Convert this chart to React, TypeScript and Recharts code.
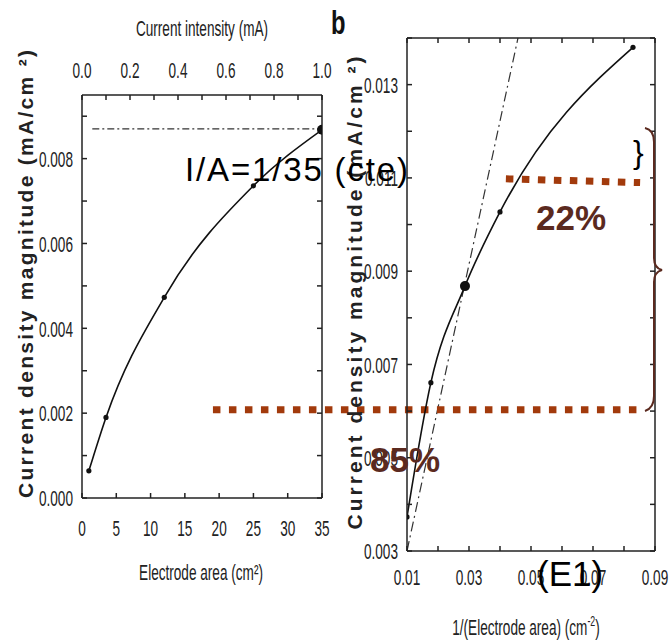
import React from "react";
import { LineChart, Line, XAxis, YAxis, ReferenceLine } from "recharts";

// panel a: current density vs electrode area
const areaCm2 = [1, 3.5, 12, 25, 35];
const densityA = [0.00064, 0.0019, 0.00473, 0.00736, 0.00868];
const areaTicks = [0, 5, 10, 15, 20, 25, 30, 35];
const intensityTicks = [0, 0.1, 0.2, 0.3, 0.4, 0.5, 0.6, 0.7, 0.8, 0.9, 1.0];
const densityTicksA = [0, 0.001, 0.002, 0.003, 0.004, 0.005, 0.006, 0.007, 0.008, 0.009];
const constRatioLevel = 0.0087; // I/A = 1/35
const constRatioStart = 1.5;

// panel b: current density vs 1/area
const invArea = [0.01, 0.0177, 0.0287, 0.04, 0.0829];
const densityB = [0.00373, 0.00661, 0.00868, 0.01027, 0.0138];
const invAreaTicks = [0.01, 0.02, 0.03, 0.04, 0.05, 0.06, 0.07, 0.08, 0.09];
const densityTicksB = [0.003, 0.004, 0.005, 0.006, 0.007, 0.008, 0.009, 0.01, 0.011, 0.012, 0.013, 0.014];
const tangentX = [0.01, 0.0458];
const tangentY = [0.003, 0.014];
// brown dotted markers (85% and 22% levels)
const level85X = [-0.0526, 0.0842];
const level85Y = [0.00603, 0.00603];
const level22X = [0.0419, 0.0852];
const level22Y = [0.01098, 0.0109];

const HIGHLIGHT_A = 35;
const HIGHLIGHT_B = 0.0287;

const SANS = "'Liberation Sans', Arial, sans-serif";
const BROWN_DOT = "#a23a0c";
const BROWN_TXT = "#5b2a1f";
const AXIS = "#222";

const dataA = areaCm2.map((a, i) => ({ x: a, y: densityA[i] }));
const dataB = invArea.map((a, i) => ({ x: a, y: densityB[i] }));

// condensed, vertically stretched tick text (like the scanned figure)
function NarrowTick(props: any) {
  const { x, y, payload, side, fmt } = props;
  const label = fmt(payload.value);
  if (!label) return null;
  return (
    <text
      transform={`translate(${x},${y}) scale(0.8,1.35)`}
      textAnchor={side === "left" ? "end" : "middle"}
      dy="0.36em"
      fontSize={17}
      fontFamily={SANS}
      fill={AXIS}
    >
      {label}
    </text>
  );
}

const blank = () => "";

function makeDot(highlight: number) {
  return (p: any) => (
    <circle
      key={`d-${p.index}`}
      cx={p.cx}
      cy={p.cy}
      r={Math.abs(p.payload.x - highlight) < 1e-6 ? 5 : 2.6}
      fill="#111"
    />
  );
}

function PanelA() {
  return (
    <LineChart width={669} height={641} data={dataA} margin={{ top: 35, right: 337, bottom: 103, left: 12 }}>
      <XAxis
        xAxisId="bottom"
        dataKey="x"
        type="number"
        domain={[0, 35]}
        ticks={areaTicks}
        interval={0}
        height={40}
        stroke={AXIS}
        strokeWidth={1.5}
        tickSize={-5}
        tickMargin={35}
        tick={<NarrowTick side="bottom" fmt={(v: number) => String(v)} />}
        allowDataOverflow
      />
      <XAxis
        xAxisId="top"
        dataKey="x"
        orientation="top"
        type="number"
        domain={[0, 1]}
        ticks={intensityTicks}
        interval={0}
        height={60}
        stroke={AXIS}
        strokeWidth={1.5}
        tickSize={-5}
        tickMargin={30}
        tick={
          <NarrowTick
            side="top"
            fmt={(v: number) => (Math.round(v * 10) % 2 === 0 ? v.toFixed(1) : "")}
          />
        }
        allowDataOverflow
      />
      <YAxis
        yAxisId="left"
        type="number"
        domain={[0, 0.0095]}
        ticks={densityTicksA}
        interval={0}
        width={70}
        stroke={AXIS}
        strokeWidth={1.5}
        tickSize={-5}
        tickMargin={14}
        tick={
          <NarrowTick
            side="left"
            fmt={(v: number) => (Math.round(v * 1000) % 2 === 0 ? v.toFixed(3) : "")}
          />
        }
        allowDataOverflow
      />
      <YAxis
        yAxisId="right"
        orientation="right"
        type="number"
        domain={[0, 0.0095]}
        ticks={densityTicksA}
        interval={0}
        width={10}
        stroke={AXIS}
        strokeWidth={1.5}
        tickSize={-5}
        tick={<NarrowTick side="right" fmt={blank} />}
        allowDataOverflow
      />
      <ReferenceLine
        xAxisId="bottom"
        yAxisId="left"
        segment={[
          { x: constRatioStart, y: constRatioLevel },
          { x: HIGHLIGHT_A, y: constRatioLevel },
        ]}
        stroke="#333"
        strokeWidth={1.3}
        strokeDasharray="7 3 2 3"
      />
      <Line
        xAxisId="bottom"
        yAxisId="left"
        dataKey="y"
        type="monotone"
        stroke="#111"
        strokeWidth={1.6}
        dot={makeDot(HIGHLIGHT_A)}
        isAnimationActive={false}
      />
    </LineChart>
  );
}

function PanelB() {
  return (
    <LineChart width={669} height={641} data={dataB} margin={{ top: 33, right: 4, bottom: 50, left: 347 }}>
      <XAxis
        xAxisId="bottom"
        dataKey="x"
        type="number"
        domain={[0.01, 0.09]}
        ticks={invAreaTicks}
        interval={0}
        height={40}
        stroke={AXIS}
        strokeWidth={1.5}
        tickSize={-5}
        tickMargin={31}
        tick={
          <NarrowTick
            side="bottom"
            fmt={(v: number) => (Math.round(v * 100) % 2 === 1 ? v.toFixed(2) : "")}
          />
        }
        allowDataOverflow
      />
      <XAxis
        xAxisId="top"
        dataKey="x"
        orientation="top"
        type="number"
        domain={[0.01, 0.09]}
        ticks={invAreaTicks}
        interval={0}
        height={5}
        stroke={AXIS}
        strokeWidth={1.5}
        tickSize={-5}
        tick={<NarrowTick side="top" fmt={blank} />}
        allowDataOverflow
      />
      <YAxis
        yAxisId="left"
        type="number"
        domain={[0.003, 0.014]}
        ticks={densityTicksB}
        interval={0}
        width={60}
        stroke={AXIS}
        strokeWidth={1.5}
        tickSize={-5}
        tickMargin={14}
        tick={
          <NarrowTick
            side="left"
            fmt={(v: number) => (Math.round(v * 1000) % 2 === 1 ? v.toFixed(3) : "")}
          />
        }
        allowDataOverflow
      />
      <YAxis
        yAxisId="right"
        orientation="right"
        type="number"
        domain={[0.003, 0.014]}
        ticks={densityTicksB}
        interval={0}
        width={10}
        stroke={AXIS}
        strokeWidth={1.5}
        tickSize={-5}
        tick={<NarrowTick side="right" fmt={blank} />}
        allowDataOverflow
      />
      <ReferenceLine
        xAxisId="bottom"
        yAxisId="left"
        segment={[
          { x: tangentX[0], y: tangentY[0] },
          { x: tangentX[1], y: tangentY[1] },
        ]}
        stroke="#333"
        strokeWidth={1.2}
        strokeDasharray="10 4 2 4"
      />
      <ReferenceLine
        xAxisId="bottom"
        yAxisId="left"
        ifOverflow="visible"
        segment={[
          { x: level85X[0], y: level85Y[0] },
          { x: level85X[1], y: level85Y[1] },
        ]}
        stroke={BROWN_DOT}
        strokeWidth={7}
        strokeDasharray="7.5 8.5"
      />
      <ReferenceLine
        xAxisId="bottom"
        yAxisId="left"
        ifOverflow="visible"
        segment={[
          { x: level22X[0], y: level22Y[0] },
          { x: level22X[1], y: level22Y[1] },
        ]}
        stroke={BROWN_DOT}
        strokeWidth={7}
        strokeDasharray="7.5 8.5"
      />
      <Line
        xAxisId="bottom"
        yAxisId="left"
        dataKey="y"
        type="monotone"
        stroke="#111"
        strokeWidth={1.6}
        dot={makeDot(HIGHLIGHT_B)}
        isAnimationActive={false}
      />
    </LineChart>
  );
}

function Overlay() {
  const narrowTitle = (x: number, y: number, content: React.ReactNode) => (
    <text
      transform={`translate(${x},${y}) scale(0.8,1.25)`}
      textAnchor="middle"
      dy="0.36em"
      fontSize={17}
      fontFamily={SANS}
      fill={AXIS}
    >
      {content}
    </text>
  );
  const yTitle = (x: number, y: number, len: number) => (
    <text
      transform={`translate(${x},${y}) rotate(-90)`}
      textAnchor="middle"
      fontSize={21}
      fontWeight="bold"
      fontFamily={SANS}
      fill={AXIS}
      textLength={len}
      lengthAdjust="spacing"
    >
      Current density magnitude (mA/cm ²)
    </text>
  );
  return (
    <svg width={669} height={641} style={{ position: "absolute", left: 0, top: 0, pointerEvents: "none" }}>
      {narrowTitle(202, 28, "Current intensity (mA)")}
      {narrowTitle(201, 572, "Electrode area (cm²)")}
      {narrowTitle(
        526,
        627,
        <>
          1/(Electrode area) (cm
          <tspan dy={-7} fontSize={11}>-2</tspan>
          <tspan dy={7}>)</tspan>
        </>
      )}
      {yTitle(33, 274, 448)}
      {yTitle(362, 293, 473)}
      <text transform="translate(331,34) scale(0.72,1)" fontSize={33} fontWeight="bold" fontFamily={SANS} fill="#111">
        b
      </text>
      <text x={185} y={181} fontSize={33} fontFamily={SANS} fill="#000" textLength={223} lengthAdjust="spacing">
        I/A=1/35 (cte)
      </text>
      <text x={536} y={230} fontSize={35} fontWeight="bold" fontFamily={SANS} fill={BROWN_TXT}>
        22%
      </text>
      <text x={370} y={472} fontSize={35} fontWeight="bold" fontFamily={SANS} fill={BROWN_TXT}>
        85%
      </text>
      <text x={537} y={586} fontSize={35} fontFamily={SANS} fill="#000">
        (E1)
      </text>
      <text x={633} y={163} fontSize={32} fontFamily={SANS} fill="#000">
        {"}"}
      </text>
      <path
        d="M645,128 Q654,130 654,142 L654,258 Q654,268 662,270 Q654,272 654,282 L654,396 Q654,408 645,411"
        fill="none"
        stroke={BROWN_TXT}
        strokeWidth={2}
      />
    </svg>
  );
}

export default function App() {
  return (
    <div style={{ position: "absolute", left: 0, top: 0, width: 669, height: 641, background: "#fff", overflow: "hidden" }}>
      <div style={{ position: "absolute", left: 0, top: 0 }}>
        <PanelA />
      </div>
      <div style={{ position: "absolute", left: 0, top: 0 }}>
        <PanelB />
      </div>
      <Overlay />
    </div>
  );
}
